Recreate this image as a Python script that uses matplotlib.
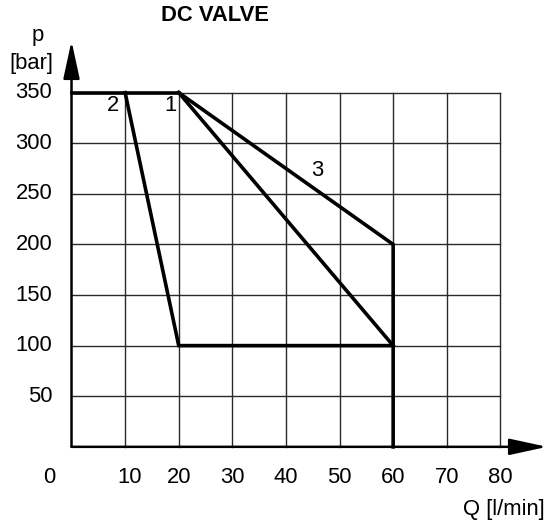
import numpy as np
import matplotlib
matplotlib.use("Agg")
from matplotlib import pyplot as plt

plt.rcParams['font.family'] = ['Liberation Sans', 'DejaVu Sans']

title = "DC VALVE"
x_ticks = [10, 20, 30, 40, 50, 60, 70, 80]
y_ticks = [50, 100, 150, 200, 250, 300, 350]
x_max = 80
y_max = 350

# characteristic curves (Q [l/min], p [bar])
top_q = [0, 20]
top_p = [350, 350]
curve2_q = [10, 20, 60]
curve2_p = [350, 100, 100]
curve1_q = [20, 60]
curve1_p = [350, 100]
curve3_q = [20, 60, 60]
curve3_p = [350, 200, 0]

curve_labels = ["2", "1", "3"]
curve_label_q = [7.7, 18.4, 45.8]
curve_label_p = [337, 337, 273.5]

fig = plt.figure(figsize=(5.47, 5.20), dpi=100)
ax = fig.add_axes([0, 0, 1, 1])
ax.set_xlim(-13.34, 88.7)
ax.set_ylim(-72.3, 441.5)
ax.axis('off')

fs = 15.8
grid_kw = dict(color='#2a2a2a', lw=1.0, zorder=1)
for x in x_ticks:
    ax.plot([x, x], [0, y_max], **grid_kw)
for y in y_ticks:
    ax.plot([0, x_max], [y, y], **grid_kw)

# axes with arrows
arrow_kw = dict(arrowstyle='-|>,head_length=2.3,head_width=0.5',
                mutation_scale=10, lw=1.8, color='black',
                shrinkA=0, shrinkB=0)
ax.annotate('', xy=(88.7, 0), xytext=(0, 0), arrowprops=arrow_kw, zorder=3)
ax.annotate('', xy=(0, 401), xytext=(0, 0), arrowprops=arrow_kw, zorder=3)

line_kw = dict(color='black', lw=2.6, solid_joinstyle='miter', zorder=4)
ax.plot(top_q, top_p, **line_kw)
ax.plot(curve2_q, curve2_p, **line_kw)
ax.plot(curve1_q, curve1_p, **line_kw)
ax.plot(curve3_q, curve3_p, **line_kw)

for lab, q, p in zip(curve_labels, curve_label_q, curve_label_p):
    ax.text(q, p, lab, fontsize=fs, ha='center', va='center')

# tick labels
ax.text(-4.2, -30, "0", fontsize=fs, ha='center', va='center')
for x in x_ticks:
    ax.text(x + (0.8 if x == 10 else 0), -30, str(x), fontsize=fs, ha='center', va='center')
for y in y_ticks:
    ax.text(-3.6, y, str(y), fontsize=fs, ha='right', va='center')

ax.text(88.2, -62, "Q [l/min]", fontsize=fs, ha='right', va='center')
ax.text(-6.25, 406.7, "p", fontsize=fs, ha='center', va='center')
ax.text(-7.5, 379, "[bar]", fontsize=fs, ha='center', va='center')
ax.text(26.8, 425.7, title, fontsize=fs, fontweight='bold', ha='center', va='center')

fig.savefig("out.png", dpi=100)
